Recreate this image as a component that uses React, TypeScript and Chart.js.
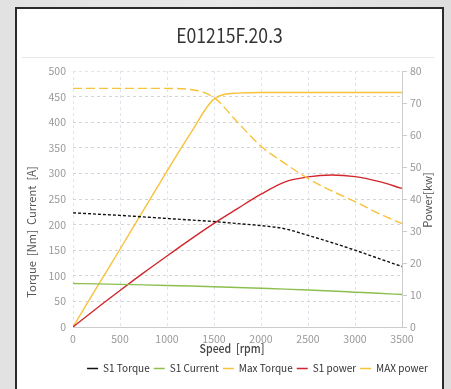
import React, { useEffect, useRef } from "react";
import { Chart, registerables } from "chart.js";

Chart.register(...registerables);

const TITLE = "E01215F.20.3";
const speed = [0, 250, 500, 750, 1000, 1250, 1500, 1750, 2000, 2250, 2500, 2750, 3000, 3250, 3500];
const s1Torque = [223, 220.5, 218, 215, 212, 209, 206, 202, 198, 192, 179, 165, 150, 134, 118];
const s1Current = [85, 84.2, 83.3, 82.3, 81.2, 80, 78.6, 77.2, 75.6, 74, 72.2, 70.2, 68, 65.8, 63.5];
const maxTorque = [466, 466, 466, 466, 466, 464, 448, 400, 353, 320, 290, 266, 245, 222, 202];
const s1Power = [0, 5.8, 11.4, 16.9, 22.2, 27.4, 32.4, 37, 41.5, 45.3, 46.9, 47.5, 47.0, 45.5, 43.3];
const maxPower = [0, 12.2, 24.3, 36.5, 48.7, 60.5, 71.2, 73.1, 73.3, 73.3, 73.3, 73.3, 73.3, 73.3, 73.3];

const xTitle = "Speed  [rpm]";
const yLeftTitle = "Torque  [Nm]  Current  [A]";
const yRightTitle = "Power[kw]";

const FONT = "'Noto Sans CJK SC', 'Noto Sans', sans-serif";
const W = 451;
const H = 389;
const SQ = 0.88;

const pts = (ys: number[]) => speed.map((x, i) => ({ x, y: ys[i] }));

const squeezedText = (ctx: any, text: string, x: number, y: number, sx: number, sy: number) => {
  ctx.save();
  ctx.translate(x, y);
  ctx.scale(sx, sy);
  ctx.fillText(text, 0, 0);
  ctx.restore();
};

const decor = {
  id: "decor",
  afterLayout(chart: any) {
    const lg = chart.legend;
    if (lg) {
      lg.left += 32;
      lg.right += 32;
    }
  },
  beforeDraw(chart: any) {
    const ctx = chart.ctx;
    ctx.save();
    const g = ctx.createLinearGradient(0, 0, W, 0);
    g.addColorStop(0, "#e2e2e2");
    g.addColorStop(0.5, "#e9e9e9");
    g.addColorStop(1, "#dedede");
    ctx.fillStyle = g;
    ctx.fillRect(0, 0, W, H);
    ctx.fillStyle = "#ffffff";
    ctx.fillRect(16, 8, 427, H);
    ctx.strokeStyle = "#2b2b2b";
    ctx.lineWidth = 2;
    ctx.beginPath();
    ctx.moveTo(16, H + 2);
    ctx.lineTo(16, 8);
    ctx.lineTo(443, 8);
    ctx.lineTo(443, H + 2);
    ctx.stroke();
    ctx.fillStyle = "#333";
    ctx.font = `20px ${FONT}`;
    ctx.textAlign = "center";
    ctx.textBaseline = "middle";
    squeezedText(ctx, TITLE, 229.5, 35, SQ, 1);
    ctx.strokeStyle = "#e6e6e6";
    ctx.lineWidth = 1;
    ctx.beginPath();
    ctx.moveTo(22, 57.5);
    ctx.lineTo(434, 57.5);
    ctx.stroke();
    ctx.restore();
  },
  afterDraw(chart: any) {
    const ctx = chart.ctx;
    ctx.save();
    ctx.textAlign = "center";
    ctx.textBaseline = "middle";
    ctx.fillStyle = "#444";
    ctx.font = `500 12px ${FONT}`;
    squeezedText(ctx, xTitle, 232, 348, SQ, 1);
    ctx.fillStyle = "#555";
    ctx.font = `12px ${FONT}`;
    ctx.save();
    ctx.translate(32, 232);
    ctx.rotate(-Math.PI / 2);
    squeezedText(ctx, yLeftTitle, 0, 0, 0.93, SQ + 0.05);
    ctx.restore();
    ctx.save();
    ctx.translate(428, 200);
    ctx.rotate(-Math.PI / 2);
    squeezedText(ctx, yRightTitle, 0, 0, 0.93, SQ + 0.05);
    ctx.restore();
    ctx.restore();
  },
};

export default function App() {
  const ref = useRef<HTMLCanvasElement>(null);
  useEffect(() => {
    document.body.style.margin = "0";
    const ds = (label: string, data: number[], color: string, axis: string, dash: number[], bw = 1.4) => ({
      label,
      data: pts(data),
      borderColor: color,
      backgroundColor: color,
      borderWidth: bw,
      borderDash: dash,
      pointRadius: 0,
      fill: false,
      yAxisID: axis,
      cubicInterpolationMode: "monotone" as const,
    });
    const PADB = 5.5;
    const plain = (v: any) => String(v);
    const chart = new Chart(ref.current!, {
      type: "line",
      data: {
        datasets: [
          ds("S1 Torque", s1Torque, "#111111", "y", [3, 2]),
          ds("S1 Current", s1Current, "#8dbf4e", "y", []),
          ds("Max Torque", maxTorque, "#f8c23a", "y", [9, 4]),
          ds("S1 power", s1Power, "#d1272c", "y1", []),
          ds("MAX power", maxPower, "#f8c23a", "y1", []),
        ],
      },
      plugins: [decor],
      options: {
        responsive: false,
        animation: false,
        devicePixelRatio: 1,
        layout: { padding: { left: 0, right: 0, top: 71, bottom: PADB } },
        plugins: {
          title: { display: false },
          tooltip: { enabled: false },
          legend: {
            position: "bottom",
            labels: {
              usePointStyle: true,
              pointStyle: "line",
              pointStyleWidth: 11,
              boxHeight: 10,
              padding: 4,
              color: "#333",
              font: { family: FONT, size: 10 },
            },
          },
        },
        scales: {
          x: {
            type: "linear",
            min: 0,
            max: 3500,
            ticks: { stepSize: 500, color: "#999", padding: 6, font: { family: FONT, size: 10.5 }, maxRotation: 0, callback: plain },
            grid: { color: "#dfe5ef", drawTicks: false },
            border: { display: true, color: "#cccccc", dash: [3, 3] },
            afterFit(scale: any) {
              const lg = scale.chart.legend;
              scale.height = H - PADB - (lg ? lg.height : 0) - 327;
            },
          },
          y: {
            position: "left",
            min: 0,
            max: 500,
            ticks: { stepSize: 50, color: "#999", padding: 7, font: { family: FONT, size: 10.5 }, callback: plain },
            grid: {
              drawTicks: false,
              color: (c: any) => (c.tick && c.tick.value === 500 ? "#dfe5ef" : "#d4d4d4"),
            },
            border: { display: false, dash: [3, 3] },
            afterFit(scale: any) {
              scale.width = 73;
            },
          },
          y1: {
            position: "right",
            min: 0,
            max: 80,
            ticks: { stepSize: 10, color: "#999", padding: 3, font: { family: FONT, size: 10.5 }, callback: plain },
            grid: { drawOnChartArea: false, drawTicks: true, tickLength: 5, color: "#cccccc" },
            border: { display: true, color: "#cccccc" },
            afterFit(scale: any) {
              scale.width = W - 402;
            },
          },
        },
      } as any,
    });
    return () => chart.destroy();
  }, []);
  return (
    <canvas
      ref={ref}
      width={W}
      height={H}
      style={{ position: "fixed", left: 0, top: 0, width: W, height: H, display: "block" }}
    />
  );
}
